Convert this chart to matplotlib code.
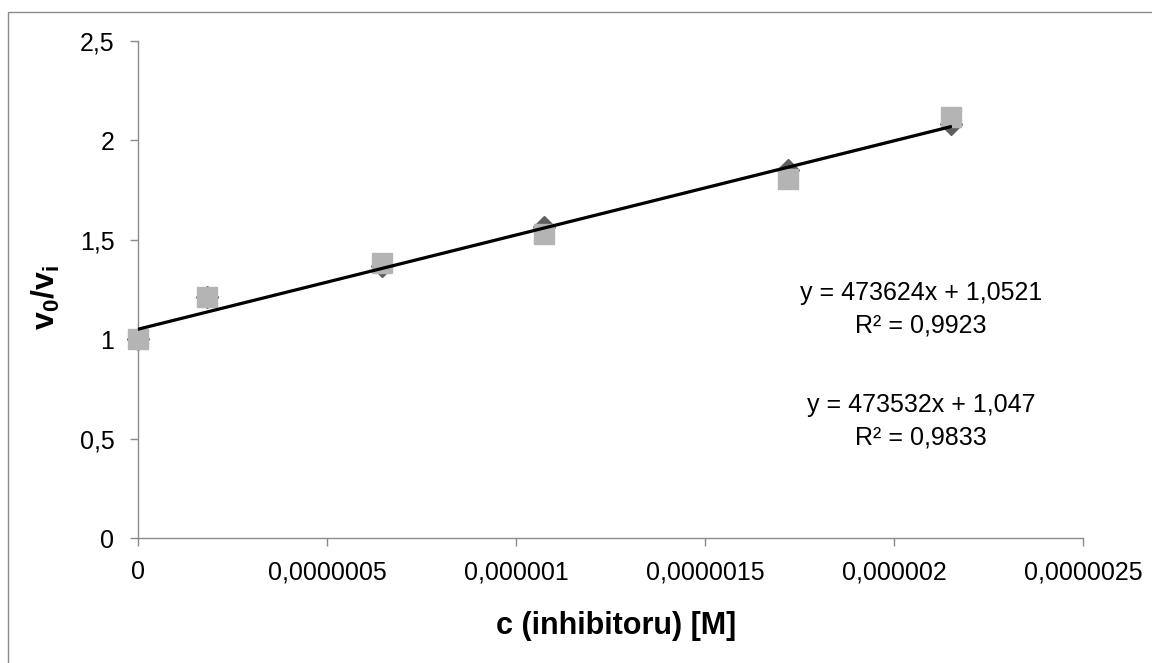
import numpy as np
import matplotlib.pyplot as plt
from matplotlib.patches import Rectangle

plt.rcParams['font.family'] = ['Liberation Sans', 'DejaVu Sans']
plt.rcParams['mathtext.fontset'] = 'custom'
plt.rcParams['mathtext.rm'] = 'Liberation Sans'
plt.rcParams['mathtext.bf'] = 'Liberation Sans:bold'

# inhibitor concentration [M]
conc = [0.0, 1.83e-7, 6.45e-7, 1.075e-6, 1.72e-6, 2.15e-6]
# v0/vi, series 1 (diamonds) and series 2 (squares)
ratio_a = [1.0, 1.21, 1.365, 1.563, 1.852, 2.082]
ratio_b = [1.0, 1.21, 1.380, 1.528, 1.807, 2.118]

# linear trendlines: slope, intercept, R^2
fit_a = (473624, 1.0521, 0.9923)
fit_b = (473532, 1.047, 0.9833)

x_ticks = [0, 5e-7, 1e-6, 1.5e-6, 2e-6, 2.5e-6]
x_labels = ["0", "0,0000005", "0,000001", "0,0000015", "0,000002", "0,0000025"]
y_ticks = [0, 0.5, 1, 1.5, 2, 2.5]
y_labels = ["0", "0,5", "1", "1,5", "2", "2,5"]

W, H = 1152, 663
fig = plt.figure(figsize=(W / 100, H / 100), dpi=100)
ax = fig.add_axes([138 / W, 1 - 538 / H, (1083 - 138) / W, (538 - 40.7) / H])

# chart area frame
fig.patches.append(Rectangle((8 / W, -0.1), 1.2, 1 - 12 / H + 0.1,
                             transform=fig.transFigure, fill=False,
                             edgecolor='#8a8a8a', linewidth=1.0))

ax.plot(conc, ratio_a, linestyle='none', marker='D', markersize=11,
        color='#5f5f5f', zorder=2, clip_on=False)
ax.plot(conc, ratio_b, linestyle='none', marker='s', markersize=14,
        color='#b4b4b4', zorder=3, clip_on=False)

xs = np.array([conc[0], conc[-1]])
for slope, icpt, _ in (fit_a, fit_b):
    ax.plot(xs, slope * xs + icpt, color='black', linewidth=1.6, zorder=4)

ax.set_xlim(0, 2.5e-6)
ax.set_ylim(0, 2.5)
ax.set_xticks(x_ticks)
ax.set_xticklabels(x_labels)
ax.set_yticks(y_ticks)
ax.set_yticklabels(y_labels)

for side in ('top', 'right'):
    ax.spines[side].set_visible(False)
for side in ('left', 'bottom'):
    ax.spines[side].set_color('#8a8a8a')
    ax.spines[side].set_linewidth(1.0)
ax.tick_params(axis='both', direction='out', length=6, width=1.0,
               color='#8a8a8a', labelsize=18, labelcolor='black')
ax.tick_params(axis='x', pad=10)
ax.tick_params(axis='y', pad=11)

def fmt(v):
    return str(v).replace('.', ',')

for (slope, icpt, r2), ycen in ((fit_a, 293), (fit_b, 405)):
    fig.text(921 / W, 1 - ycen / H, f"y = {slope}x + {fmt(icpt)}",
             ha='center', va='center', fontsize=18)
    fig.text(921 / W, 1 - (ycen + 32) / H, f"R² = {fmt(r2)}",
             ha='center', va='center', fontsize=18)

fig.text(616 / W, 1 - 626 / H, "c (inhibitoru) [M]", ha='center', va='center',
         fontsize=22, fontweight='bold')
fig.text(46 / W, 1 - 297 / H, r"$\mathbf{v_0/v_i}$", ha='center', va='center',
         rotation=90, fontsize=23)

fig.savefig("out.png", dpi=100)
